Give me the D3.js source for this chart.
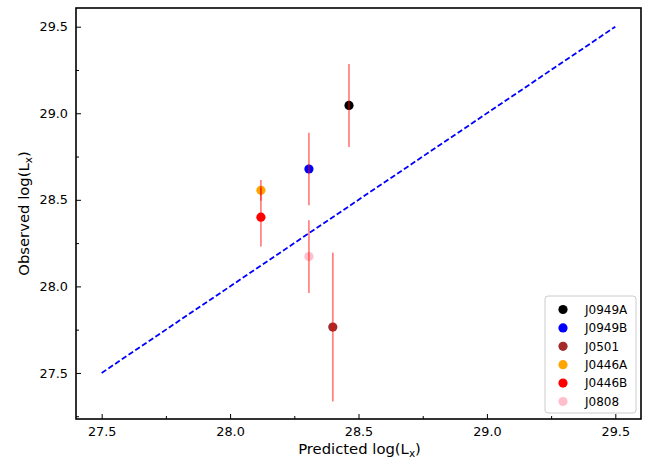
<!DOCTYPE html>
<html>
<head>
<meta charset="utf-8">
<script src="https://cdn.jsdelivr.net/npm/d3@7"></script>
<style>
  body { margin: 0; background: #fff; }
  text { font-family: "DejaVu Sans", sans-serif; }
</style>
</head>
<body>
<div id="chart"></div>
<script>
// ---- data ----
const names = ['J0949A', 'J0949B', 'J0501', 'J0446A', 'J0446B', 'J0808']
const colors = ['black', 'blue', 'brown', 'orange', 'red', 'pink']
const predicted = [28.463, 28.307, 28.40, 28.12, 28.12, 28.307]
const observed = [29.045, 28.678, 27.765, 28.555, 28.40, 28.172]
const errLow = [0.24, 0.21, 0.43, 0.06, 0.17, 0.21]
const errHigh = [0.24, 0.21, 0.43, 0.06, 0.17, 0.21]
const oneToOne = [[27.5, 27.5], [29.5, 29.5]]
const xTicks = [27.5, 28.0, 28.5, 29.0, 29.5]
const yTicks = [27.5, 28.0, 28.5, 29.0, 29.5]
const minorTicks = [27.25, 27.75, 28.25, 28.75, 29.25]

const W = 655, H = 459
const L = 76, R = 641, T = 8, B = 419

const svg = d3.select('#chart').append('svg')
    .attr('width', W).attr('height', H)

const x = d3.scaleLinear().domain([27.4, 29.6]).range([L, R])
const y = d3.scaleLinear().domain([27.234, 29.608]).range([B, T])

//====[ 1:1 line ]====//
svg.append('path')
    .datum(oneToOne)
    .attr('d', d3.line().x(d => x(d[0])).y(d => y(d[1])))
    .attr('fill', 'none')
    .attr('stroke', 'blue')
    .attr('stroke-width', 1.8)
    .attr('stroke-dasharray', '5.5,2.6')

//====[ points, then error bars on top ]====//
names.forEach((n, i) => {
    svg.append('circle')
        .attr('cx', x(predicted[i]))
        .attr('cy', y(observed[i]))
        .attr('r', 4.6)
        .attr('fill', colors[i])
    svg.append('line')
        .attr('x1', x(predicted[i])).attr('x2', x(predicted[i]))
        .attr('y1', y(observed[i] - errLow[i]))
        .attr('y2', y(observed[i] + errHigh[i]))
        .attr('stroke', 'red')
        .attr('stroke-opacity', 0.5)
        .attr('stroke-width', 1.7)
})

//====[ axes ]====//
const gx = svg.append('g').attr('transform', 'translate(0,' + B + ')')
gx.call(d3.axisBottom(x).tickValues(xTicks).tickFormat(d3.format('.1f')).tickSizeInner(-5).tickSizeOuter(0).tickPadding(8))
gx.append('g').call(d3.axisBottom(x).tickValues(minorTicks.filter(v => v > 27.4 && v < 29.6)).tickFormat('').tickSizeInner(-3).tickSizeOuter(0))

const gy = svg.append('g').attr('transform', 'translate(' + L + ',0)')
gy.call(d3.axisLeft(y).tickValues(yTicks).tickFormat(d3.format('.1f')).tickSizeInner(-5).tickSizeOuter(0).tickPadding(8))
gy.append('g').call(d3.axisLeft(y).tickValues(minorTicks).tickFormat('').tickSizeInner(-3).tickSizeOuter(0))

svg.selectAll('.tick text').attr('font-size', 12.8).attr('fill', '#000')
svg.selectAll('.domain').remove()
svg.selectAll('.tick line').attr('stroke', '#000').attr('stroke-width', 1)

svg.append('rect')
    .attr('x', L).attr('y', T).attr('width', R - L).attr('height', B - T)
    .attr('fill', 'none').attr('stroke', '#000').attr('stroke-width', 1.6)

//====[ axis labels ]====//
const xl = svg.append('text')
    .attr('x', (L + R) / 2 + 1).attr('y', 454)
    .attr('text-anchor', 'middle').attr('font-size', 14.8)
xl.append('tspan').text('Predicted log(L')
xl.append('tspan').attr('font-size', 10.5).attr('dy', 3).text('x')
xl.append('tspan').attr('dy', -3).text(')')

const yl = svg.append('text')
    .attr('transform', 'translate(29,' + ((T + B) / 2) + ') rotate(-90)')
    .attr('text-anchor', 'middle').attr('font-size', 14.8)
yl.append('tspan').text('Observed log(L')
yl.append('tspan').attr('font-size', 10.5).attr('dy', 3).text('x')
yl.append('tspan').attr('dy', -3).text(')')

//====[ legend ]====//
const lg = svg.append('g').attr('transform', 'translate(545,296)')
lg.append('rect')
    .attr('width', 91).attr('height', 117).attr('rx', 3)
    .attr('fill', '#fff').attr('fill-opacity', 0.8)
    .attr('stroke', '#ccc').attr('stroke-width', 1)
names.forEach((n, i) => {
    lg.append('circle').attr('cx', 18).attr('cy', 13.5 + i * 18.4).attr('r', 4.6).attr('fill', colors[i])
    lg.append('text').attr('x', 40).attr('y', 13.5 + i * 18.4).attr('dy', '0.36em')
        .attr('font-size', 12).text(n)
})
</script>
</body>
</html>
